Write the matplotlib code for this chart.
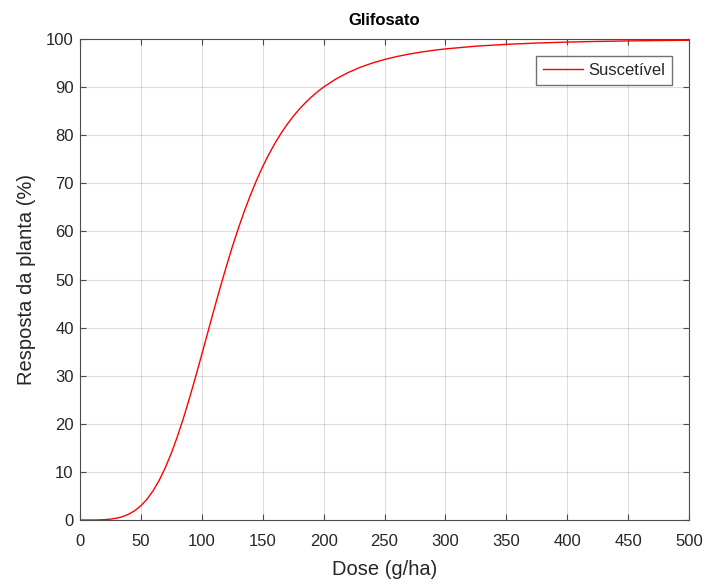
import matplotlib
matplotlib.use("Agg")
import matplotlib.pyplot as plt

plt.rcParams['font.family'] = ['Liberation Sans', 'DejaVu Sans']

dose = [0, 5, 10, 15, 20, 25, 30, 35, 40, 45, 50, 55, 60, 65, 70, 75, 80, 85, 90, 95,
        100, 105, 110, 115, 120, 125, 130, 135, 140, 145, 150, 155, 160, 165, 170, 175,
        180, 185, 190, 195, 200, 210, 220, 230, 240, 250, 260, 270, 280, 290, 300,
        325, 350, 375, 400, 425, 450, 475, 500]
resposta = [0.0, 0.0, 0.0, 0.02, 0.07, 0.18, 0.38, 0.70, 1.21, 1.95, 2.97, 4.33, 6.08,
            8.24, 10.85, 13.91, 17.38, 21.25, 25.43, 29.86, 34.44, 39.09, 43.71, 48.26,
            52.59, 56.74, 60.63, 64.26, 67.60, 70.67, 73.47, 76.0, 78.30, 80.37, 82.23,
            83.90, 85.40, 86.74, 87.95, 89.04, 90.01, 91.67, 93.01, 94.11, 95.00, 95.74,
            96.35, 96.86, 97.28, 97.64, 97.94, 98.51, 98.89, 99.16, 99.36, 99.50, 99.60,
            99.68, 99.74]
x_ticks = [0, 50, 100, 150, 200, 250, 300, 350, 400, 450, 500]
y_ticks = [0, 10, 20, 30, 40, 50, 60, 70, 80, 90, 100]

fig = plt.figure(figsize=(7.05, 5.85), dpi=100)
ax = fig.add_axes([80/705, 65/585, 609/705, 481/585])

axc = '#262626'
spc = '#4d4d4d'
ax.plot(dose, resposta, color='#ff0000', lw=1.0, label='Suscetível')
ax.set_xlim(0, 500)
ax.set_ylim(0, 100)
ax.set_xticks(x_ticks)
ax.set_yticks(y_ticks)
ax.grid(True, color='#262626', alpha=0.15, lw=0.8)
ax.tick_params(direction='in', length=4.3, width=0.8, top=True, right=True,
               labelsize=12, colors=spc, labelcolor=axc)
ax.tick_params(axis='x', pad=10)
ax.tick_params(axis='y', pad=4.5)
for s in ax.spines.values():
    s.set_color(spc)
    s.set_linewidth(0.8)
ax.set_xlabel('Dose (g/ha)', fontsize=14.5, color=axc, labelpad=8)
ax.set_ylabel('Resposta da planta (%)', fontsize=14.5, color=axc, labelpad=7)
ax.set_title('Glifosato', fontsize=12, fontweight='bold', color='black', pad=10)
leg = ax.legend(loc='upper right', fontsize=12, frameon=True, fancybox=False,
                edgecolor=spc, borderaxespad=1.0, handlelength=2.4,
                handletextpad=0.35, borderpad=0.42)
leg.get_frame().set_linewidth(1.0)
for t in leg.get_texts():
    t.set_color(axc)

fig.savefig('out.png', dpi=100)
